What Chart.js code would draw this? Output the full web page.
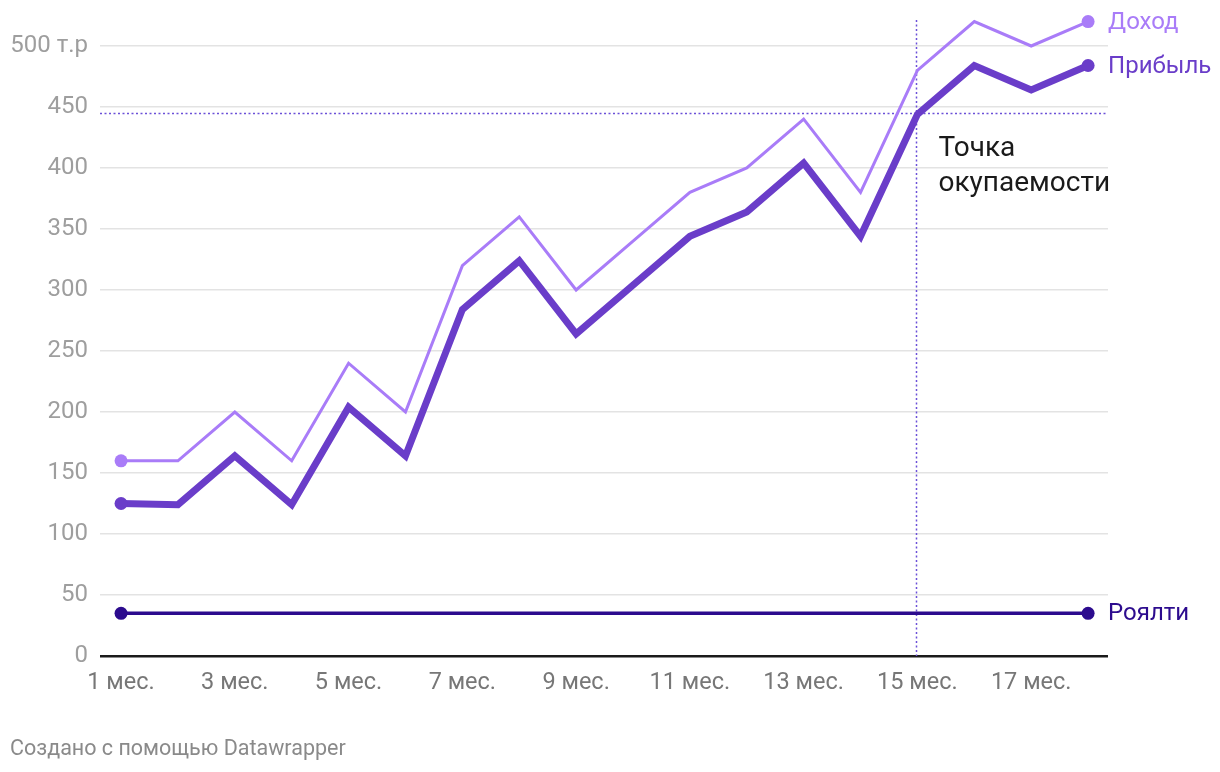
<!DOCTYPE html>
<html>
<head>
<meta charset="utf-8">
<script src="https://cdn.jsdelivr.net/npm/chart.js@4/dist/chart.umd.min.js"></script>
<style>
html,body{margin:0;padding:0;background:#fff;}
#wrap{position:relative;width:1220px;height:772px;}
#footer{position:absolute;left:10px;top:735px;font-family:Roboto,sans-serif;font-size:21.5px;color:#8a8a8a;}
</style>
</head>
<body>
<div id="wrap">
<canvas id="c" width="1220" height="772"></canvas>
<div id="footer">Создано с помощью Datawrapper</div>
</div>
<script>
const months = [1,2,3,4,5,6,7,8,9,10,11,12,13,14,15,16,17,18];
const monthLabels = ['1 мес.','3 мес.','5 мес.','7 мес.','9 мес.','11 мес.','13 мес.','15 мес.','17 мес.'];
const labelMonths = [1,3,5,7,9,11,13,15,17];
const income = [160,160,200,160,240,200,320,360,300,340,380,400,440,380,480,520,500,520];
const profit = [125,124,164,124,204,164,284,324,264,304,344,364,404,344,444,484,464,484];
const royalty = [35,35,35,35,35,35,35,35,35,35,35,35,35,35,35,35,35,35];
const yTicks = [0,50,100,150,200,250,300,350,400,450,500];
const breakEvenValue = 445;
const breakEvenMonth = 15;
const seriesNames = ['Доход','Прибыль','Роялти'];
const annotationLines = ['Точка','окупаемости'];

const colIncome = '#a97cf8';
const colProfit = '#6a3dc9';
const colRoyalty = '#2c0b8e';
const colDot = '#6b50d8';

const endRadius = (r) => (ctx) => (ctx.dataIndex === 0 || ctx.dataIndex === months.length - 1) ? r : 0;

function pts(arr){ return arr.map((v,i)=>({x:months[i], y:v})); }

const refPlugin = {
  id:'refs',
  beforeDatasetsDraw(chart){
    const {ctx, chartArea, scales:{x,y}} = chart;
    ctx.save();
    ctx.strokeStyle = colDot;
    ctx.lineWidth = 1.5;
    ctx.setLineDash([2,2.5]);
    const yy = Math.round(y.getPixelForValue(breakEvenValue)) + 0.5;
    ctx.beginPath(); ctx.moveTo(chartArea.left, yy); ctx.lineTo(chartArea.right, yy); ctx.stroke();
    const xx = Math.round(x.getPixelForValue(breakEvenMonth)) - 0.5;
    ctx.beginPath(); ctx.moveTo(xx, 20); ctx.lineTo(xx, chartArea.bottom); ctx.stroke();
    ctx.restore();
  },
  afterDatasetsDraw(chart){
    const {ctx, scales:{x,y}} = chart;
    ctx.save();
    const textCols = ['#a97cf8','#6a3dc9','#2c0b8e'];
    ctx.font = '24px Roboto, sans-serif';
    ctx.textBaseline = 'middle';
    ctx.textAlign = 'left';
    chart.data.datasets.forEach((ds,i)=>{
      const last = ds.data[ds.data.length-1];
      ctx.fillStyle = textCols[i];
      ctx.fillText(seriesNames[i], x.getPixelForValue(last.x) + 20, y.getPixelForValue(last.y) + 1);
    });
    ctx.fillStyle = '#1a1a1a';
    ctx.font = '28px Roboto, sans-serif';
    ctx.textBaseline = 'alphabetic';
    const ax = x.getPixelForValue(breakEvenMonth) + 21;
    ctx.fillText(annotationLines[0], ax, 156);
    ctx.fillText(annotationLines[1], ax, 191);
    ctx.restore();
  }
};

new Chart(document.getElementById('c'), {
  type:'line',
  data:{
    datasets:[
      {label:seriesNames[0], data:pts(income), borderColor:colIncome, backgroundColor:colIncome, borderWidth:3, pointRadius:endRadius(6.5), pointHoverRadius:0, pointBorderWidth:0, tension:0, order:2, clip:false},
      {label:seriesNames[1], data:pts(profit), borderColor:colProfit, backgroundColor:colProfit, borderWidth:7, pointRadius:endRadius(6.5), pointHoverRadius:0, pointBorderWidth:0, tension:0, order:1, clip:false},
      {label:seriesNames[2], data:pts(royalty), borderColor:colRoyalty, backgroundColor:colRoyalty, borderWidth:3.5, pointRadius:endRadius(6.5), pointHoverRadius:0, pointBorderWidth:0, tension:0, order:3, clip:false}
    ]
  },
  options:{
    responsive:false,
    animation:false,
    events:[],
    layout:{padding:{left:0, right:112, top:15.5, bottom:0}},
    plugins:{legend:{display:false}, tooltip:{enabled:false}},
    scales:{
      x:{
        type:'linear',
        min:0.63, max:18.35,
        afterBuildTicks(scale){ scale.ticks = labelMonths.map(v=>({value:v})); },
        afterFit(scale){ scale.height = 116; scale.paddingLeft = 0; scale.paddingRight = 0; },
        grid:{display:false, drawTicks:false},
        border:{display:false},
        ticks:{
          autoSkip:false, maxRotation:0, padding:13,
          color:'#777', font:{family:'Roboto', size:23.5},
          callback:(v)=>monthLabels[labelMonths.indexOf(v)]
        }
      },
      y:{
        min:0, max:525,
        afterBuildTicks(scale){ scale.ticks = yTicks.map(v=>({value:v})); },
        afterFit(scale){ scale.width = 100; scale.paddingTop = 0; scale.paddingBottom = 0; },
        grid:{
          drawTicks:false,
          color:(c)=> c.tick.value===0 ? '#1a1a1a' : '#e3e3e3',
          lineWidth:(c)=> c.tick.value===0 ? 2.5 : 1.5
        },
        border:{display:false},
        ticks:{
          padding:12,
          color:'#9e9e9e', font:{family:'Roboto', size:24},
          callback:(v)=> v===500 ? '500 т.р' : String(v)
        }
      }
    }
  },
  plugins:[refPlugin]
});
</script>
</body>
</html>
